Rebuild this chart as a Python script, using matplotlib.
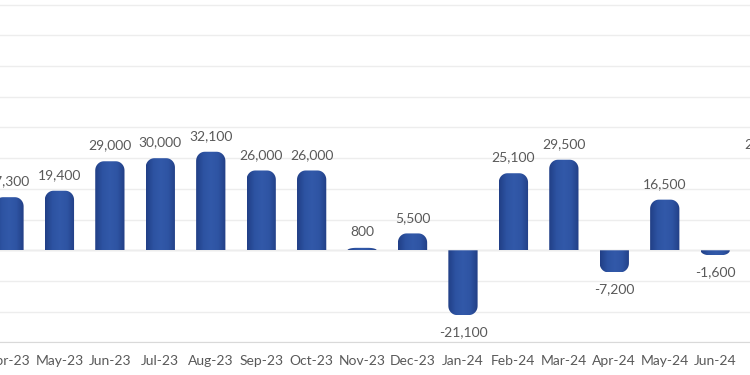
import matplotlib
matplotlib.use("Agg")
import matplotlib.pyplot as plt
import numpy as np
from matplotlib.colors import LinearSegmentedColormap
from matplotlib.patches import Polygon

months = ["Apr-23", "May-23", "Jun-23", "Jul-23", "Aug-23", "Sep-23", "Oct-23",
          "Nov-23", "Dec-23", "Jan-24", "Feb-24", "Mar-24", "Apr-24", "May-24",
          "Jun-24", "Jul-24"]
values = [17300, 19400, 29000, 30000, 32100, 26000, 26000,
          800, 5500, -21100, 25100, 29500, -7200, 16500,
          -1600, 29600]

TEXT = "#595959"
plt.rcParams["font.family"] = ["Lato", "DejaVu Sans"]

fig = plt.figure(figsize=(7.5, 3.75), dpi=100)
# chart is a crop of a wider one: axes run past the left/right/top edges
ax = fig.add_axes([0, 32.6 / 375, 1, 342.4 / 375])

x = np.arange(len(months))
bars = ax.bar(x, values, width=0.58, color="none", zorder=3)

ax.set_xlim(-0.178, 14.69)
ax.set_ylim(-30000, 81530)
ax.set_yticks(np.arange(-30000, 90001, 10000))
ax.grid(axis="y", color="#ededed", linewidth=1.0, zorder=0)
ax.axhline(0, color="#dcdcdc", linewidth=1.0, zorder=1)
ax.tick_params(axis="y", left=False, labelleft=False)
ax.tick_params(axis="x", length=0, pad=9, labelsize=10, labelcolor=TEXT)
ax.set_xticks(x)
ax.set_xticklabels(months)
for side in ["top", "left", "right"]:
    ax.spines[side].set_visible(False)
ax.spines["bottom"].set_color("#d9d9d9")
ax.spines["bottom"].set_position(("data", -30000))

# pixel -> data scale, for round caps that look circular on screen
fig.canvas.draw()
p0 = ax.transData.transform((0, 0))
p1 = ax.transData.transform((1, 10000))
px_x = p1[0] - p0[0]
px_y = (p1[1] - p0[1]) / 10000

cmap = LinearSegmentedColormap.from_list(
    "cyl", ["#213f86", "#2d53a2", "#3259a9", "#2e54a3", "#223f85"])
grad = np.linspace(0, 1, 64).reshape(1, -1)

for rect, v in zip(bars, values):
    x0 = rect.get_x()
    w = rect.get_width()
    x1 = x0 + w
    s = 1 if v >= 0 else -1
    rx = min(8.5 / px_x, w / 2)
    ry = min(8.5 / px_y, abs(v))
    t = np.linspace(np.pi, np.pi / 2, 12)
    left = np.column_stack([x0 + rx + rx * np.cos(t), v - s * ry + s * ry * np.sin(t)])
    t2 = np.linspace(np.pi / 2, 0, 12)
    right = np.column_stack([x1 - rx + rx * np.cos(t2), v - s * ry + s * ry * np.sin(t2)])
    verts = np.vstack([[x0, 0], left, right, [x1, 0]])
    poly = Polygon(verts, closed=True, facecolor="none", edgecolor="none")
    ax.add_patch(poly)
    im = ax.imshow(grad, extent=[x0, x1, min(0, v), max(0, v)], aspect="auto",
                   cmap=cmap, zorder=3, interpolation="bilinear")
    im.set_clip_path(poly)

    label = f"{v:,}"
    if v >= 0:
        ax.annotate(label, (rect.get_x() + w / 2, v), xytext=(0, 7),
                    textcoords="offset points", ha="center", va="bottom",
                    fontsize=10, color=TEXT, annotation_clip=False)
    else:
        ax.annotate(label, (rect.get_x() + w / 2, v), xytext=(0, -8),
                    textcoords="offset points", ha="center", va="top",
                    fontsize=10, color=TEXT, annotation_clip=False)

ax.set_xlim(-0.178, 14.69)
ax.set_ylim(-30000, 81530)

fig.savefig("out.png", dpi=100)
